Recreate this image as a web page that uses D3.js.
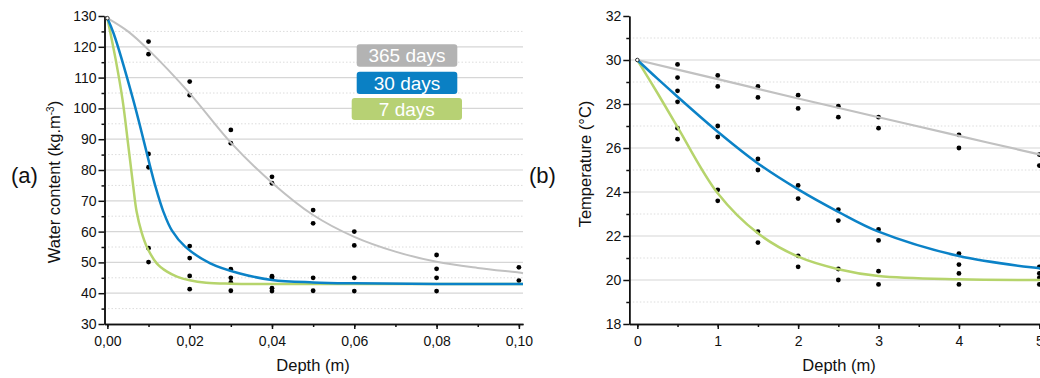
<!DOCTYPE html>
<html><head><meta charset="utf-8">
<script src="https://cdn.jsdelivr.net/npm/d3@7"></script>
<style>
html,body{margin:0;padding:0;background:#fff;overflow:hidden}
text{font-family:"Liberation Sans",Arial,sans-serif}
</style></head>
<body><svg id="c" width="1040" height="378"></svg>
<script>
// ---------- data ----------
// Panel (a): water content vs depth
const depthA = [0.01, 0.02, 0.03, 0.04, 0.05, 0.06, 0.08, 0.10];
const waterPts = [
  [121.7,117.6,85.2,80.9,54.6,50.1],
  [108.7,104.3,55.3,51.4,45.6,41.3],
  [93.0,88.7,47.8,45.0,43.5,40.8],
  [77.8,75.7,45.5,45.0,41.6,40.7],
  [67.0,62.7,45.0,40.8],
  [60.0,55.5,45.0,40.7],
  [52.4,47.9,45.0,40.7],
  [48.4,44.1]
];
const grayA_x = [0,0.005,0.01,0.02,0.03,0.04,0.05,0.06,0.07,0.08,0.09,0.10,0.101];
const grayA_y = [129.3,125.0,119.0,104.9,88.9,75.9,65.4,58.3,53.5,50.2,48.2,46.7,46.5];
const blueA_x = [0,0.0015,0.0063,0.0104,0.0115,0.0136,0.0157,0.0189,0.025,0.0322,0.04,0.05,0.06,0.08,0.101];
const blueA_y = [129.3,124.4,102.7,81.1,75.5,66.5,60.3,55.1,49.7,46.4,44.3,43.5,43.2,43.0,43.0];
const greenA_x = [0,0.002,0.0037,0.005,0.0063,0.0071,0.0083,0.0096,0.012,0.0145,0.0169,0.02,0.024,0.03,0.04,0.101];
const greenA_y = [129.3,116.0,102.7,88.8,74.5,66.5,59.8,55.0,49.7,47.0,45.4,44.2,43.4,43.1,43.0,43.0];
const ticksAx = [0,0.02,0.04,0.06,0.08,0.10];
const ticksAy = [30,40,50,60,70,80,90,100,110,120,130];

// Panel (b): temperature vs depth
const depthB = [0.5, 1, 1.5, 2, 2.5, 3, 4, 5];
const tempPts = [
  [29.8,29.2,28.6,28.1,26.9,26.4],
  [29.3,28.8,27.0,26.5,24.1,23.6],
  [28.8,28.3,25.5,25.0,22.2,21.7],
  [28.4,27.8,24.3,23.7,21.1,20.6],
  [27.9,27.4,23.2,22.7,20.5,20.0],
  [27.4,26.9,22.3,21.8,20.4,19.8],
  [26.6,26.0,21.2,20.7,20.3,19.8],
  [25.7,25.2,20.6,20.3,20.1,19.8]
];
const grayB_x = [0,1,2,3,4,5,5.3];
const grayB_y = [30,29.13,28.25,27.4,26.55,25.71,25.46];
const blueB_x = [0,0.25,0.5,1,1.5,2,2.5,3,4,5,5.3];
const blueB_y = [30,29.15,28.33,26.74,25.3,24.12,23.1,22.2,21.09,20.53,20.42];
const greenB_x = [0,0.25,0.5,1,1.5,2,2.5,3,4,5,5.3];
const greenB_y = [30,28.5,26.95,23.94,22.12,21.06,20.49,20.18,20.03,20.0,20.0];
const ticksBx = [0,1,2,3,4,5];
const ticksBy = [18,20,22,24,26,28,30,32];

const legendLabels = ["365 days","30 days","7 days"];
const colGray = "#c1c1c1", colBlue = "#0b82c7", colGreen = "#b6d46c";
const boxCols = ["#b3b3b3","#0a80c4","#b7d174"];

// ---------- drawing ----------
const svg = d3.select("#c");

function panel(opt){
  const g = svg.append("g");
  const x = d3.scaleLinear().domain(opt.xd).range(opt.xr);
  const y = d3.scaleLinear().domain(opt.yd).range([324,16]);
  const [x0,x1] = opt.xr;
  // grid
  g.selectAll(".gmin").data(opt.gridMinor).join("line")
    .attr("x1",x0).attr("x2",x1).attr("y1",d=>y(d)).attr("y2",d=>y(d))
    .attr("stroke","#dcdcdc").attr("stroke-width",1).attr("stroke-dasharray","1.5,2");
  g.selectAll(".gmaj").data(opt.gridMajor).join("line")
    .attr("x1",x0).attr("x2",x1).attr("y1",d=>y(d)).attr("y2",d=>y(d))
    .attr("stroke","#d6d6d6").attr("stroke-width",1.2);
  // axes
  const fmt = opt.fmt;
  const axB = g.append("g").attr("transform","translate(0,324)")
    .call(d3.axisBottom(x).tickValues(opt.minorX).tickSize(3).tickSizeOuter(0).tickFormat(""));
  const axB2 = g.append("g").attr("transform","translate(0,324)")
    .call(d3.axisBottom(x).tickValues(opt.ticksX).tickSize(5).tickSizeOuter(0).tickPadding(7).tickFormat(fmt));
  const axL = g.append("g").attr("transform",`translate(${x0},0)`)
    .call(d3.axisLeft(y).tickValues(opt.minorY).tickSize(3).tickSizeOuter(0).tickFormat(""));
  const axL2 = g.append("g").attr("transform",`translate(${x0},0)`)
    .call(d3.axisLeft(y).tickValues(opt.ticksY).tickSize(6).tickSizeOuter(0).tickPadding(2).tickFormat(opt.fmtY));
  [axB,axB2,axL,axL2].forEach(a=>{
    a.selectAll("path,line").attr("stroke","#111").attr("stroke-width",1.5);
    a.selectAll("text").attr("font-size","14px").attr("fill","#111")
      .attr("font-family","'Liberation Sans',Arial,sans-serif");
  });
  // points
  const pts = [];
  opt.depth.forEach((d,i)=>opt.vals[i].forEach(v=>pts.push([d,v])));
  g.selectAll(".pt").data(pts).join("circle")
    .attr("cx",d=>x(d[0])).attr("cy",d=>y(d[1])).attr("r",2.4).attr("fill","#000");
  // curves
  const line = d3.line().x(d=>x(d[0])).y(d=>y(d[1])).curve(d3.curveCatmullRom.alpha(0.5));
  opt.curves.forEach(c=>{
    g.append("path").datum(d3.zip(c.x,c.y)).attr("d",line)
      .attr("fill","none").attr("stroke",c.color).attr("stroke-width",c.w);
  });
  // start marker
  g.append("circle").attr("cx",x(opt.curves[0].x[0])).attr("cy",y(opt.curves[0].y[0]))
    .attr("r",1.8).attr("fill","#fff").attr("stroke","#333").attr("stroke-width",1);
  // titles
  g.append("text").attr("x",opt.xt).attr("y",371).attr("text-anchor","middle")
    .attr("font-size","16.5px").attr("fill","#111").text("Depth (m)");
  const yl = g.append("text").attr("transform",`translate(${opt.ylx},${opt.yly}) rotate(-90)`)
    .attr("text-anchor","middle").attr("font-size","16.5px").attr("fill","#111");
  opt.ylabel(yl);
  g.append("text").attr("x",opt.px).attr("y",183).attr("font-size","22px").attr("fill","#111").text(opt.panelLabel);
  return {x,y,g};
}

const commaFmt = d=>d3.format(".2f")(d).replace(".",",");
const seq = (a,b,s)=>d3.range(a,b+s/2,s);

panel({
  xd:[-0.0007,0.101], xr:[104.5,523], yd:[30,130],
  gridMajor: seq(40,120,10), gridMinor: seq(35,125,10),
  ticksX: ticksAx, minorX: seq(0,0.1,0.01), ticksY: ticksAy, minorY: seq(35,125,10),
  fmt: commaFmt, fmtY: d3.format("d"),
  depth: depthA, vals: waterPts,
  curves:[{x:grayA_x,y:grayA_y,color:colGray,w:2},
          {x:greenA_x,y:greenA_y,color:colGreen,w:2.5},
          {x:blueA_x,y:blueA_y,color:colBlue,w:2.5}],
  xt:313, ylx:60, yly:182, px:11, panelLabel:"(a)",
  ylabel: t=>{ t.append("tspan").text("Water content  (kg.m");
               t.append("tspan").attr("font-size","10px").attr("dy","-6").text("-3");
               t.append("tspan").attr("dy","6").text(")"); }
});

panel({
  xd:[-0.1,5.3], xr:[629.3,629.3+5.4*80.4], yd:[18,32],
  gridMajor: seq(20,30,2), gridMinor: seq(19,31,2),
  ticksX: ticksBx, minorX: seq(0,5,0.5), ticksY: ticksBy, minorY: seq(19,31,2),
  fmt: d3.format("d"), fmtY: d3.format("d"),
  depth: depthB, vals: tempPts,
  curves:[{x:grayB_x,y:grayB_y,color:colGray,w:2.2},
          {x:greenB_x,y:greenB_y,color:colGreen,w:2.5},
          {x:blueB_x,y:blueB_y,color:colBlue,w:2.5}],
  xt:839, ylx:591, yly:164, px:529, panelLabel:"(b)",
  ylabel: t=>t.text("Temperature (°C)")
});

// legend
const boxes = [[356.7,44.3,100.6,22.4],[356.7,71.7,100.6,22.3],[351.7,98,110.3,22]];
const lg = svg.append("g");
legendLabels.forEach((lab,i)=>{
  const b = boxes[i];
  lg.append("rect").attr("x",b[0]).attr("y",b[1]).attr("width",b[2]).attr("height",b[3])
    .attr("rx",3).attr("fill",boxCols[i]);
  lg.append("text").attr("x",b[0]+b[2]/2).attr("y",b[1]+b[3]/2+6.8)
    .attr("text-anchor","middle").attr("font-size","19px").attr("fill","#fff").text(lab);
});
</script></body></html>
